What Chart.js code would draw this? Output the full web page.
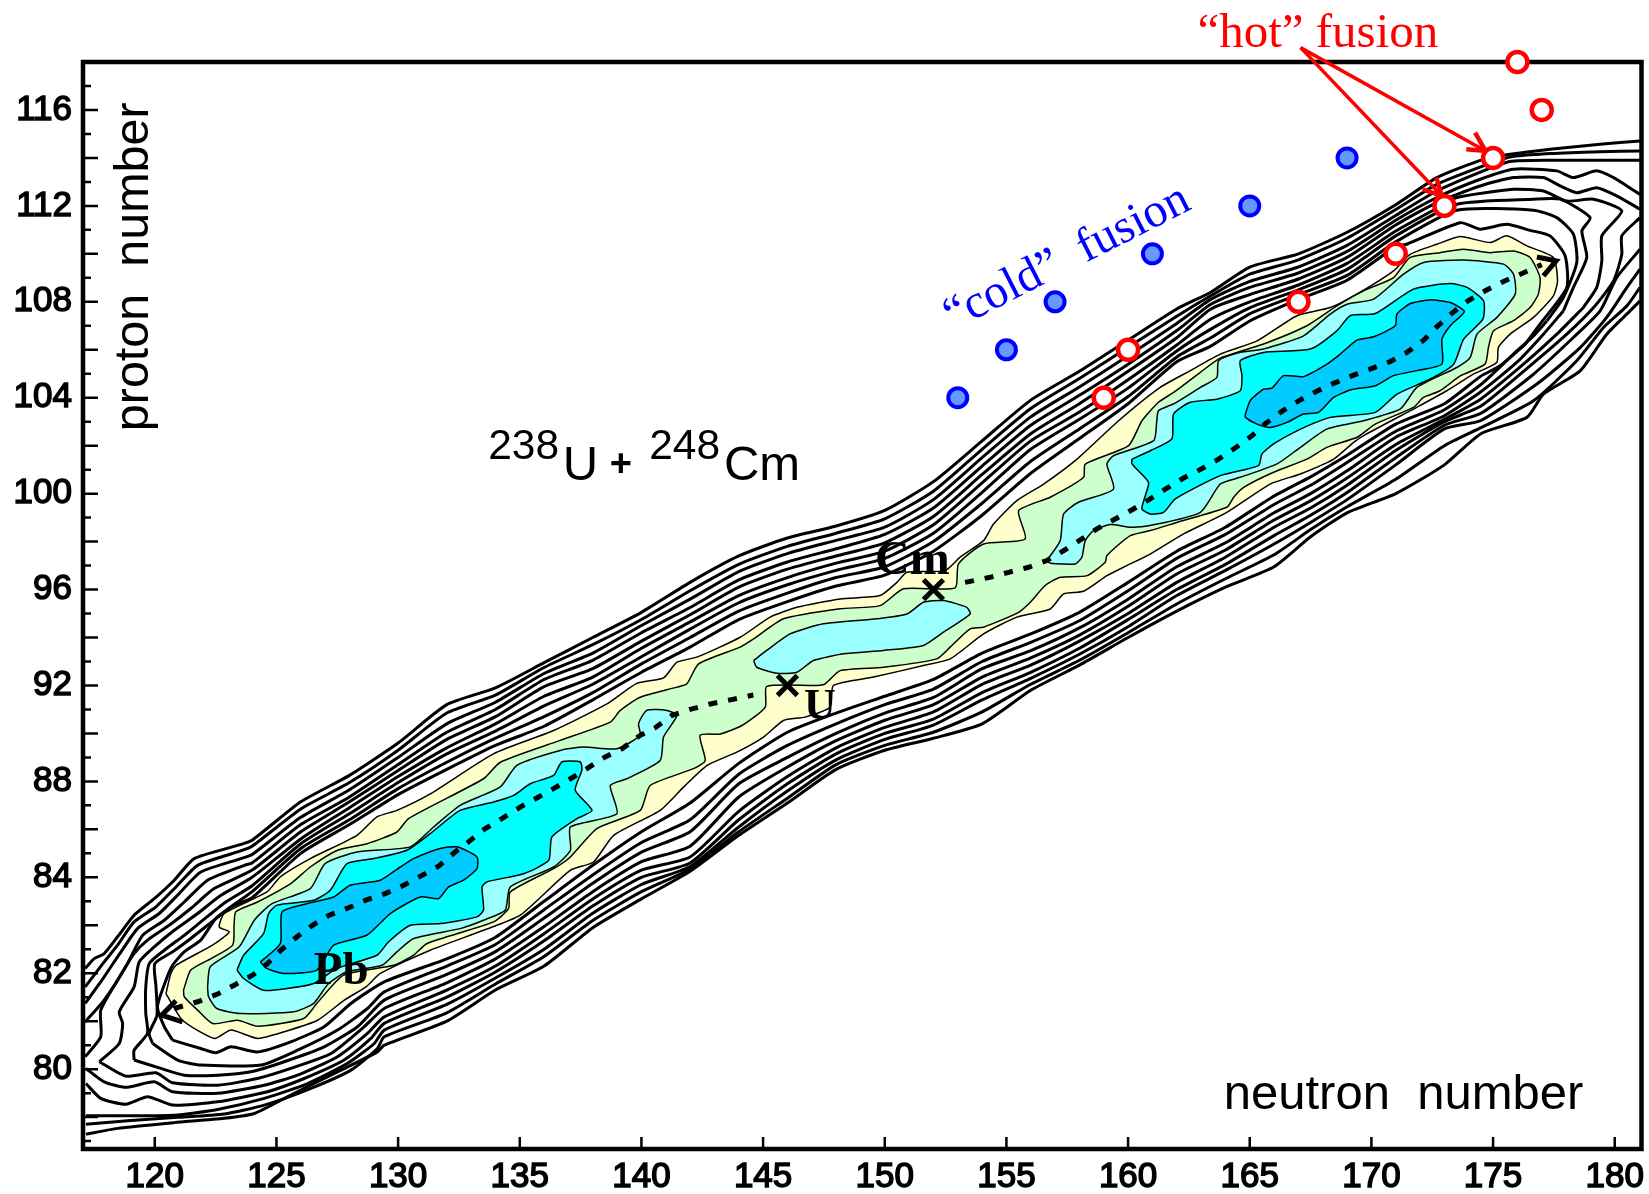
<!DOCTYPE html>
<html>
<head>
<meta charset="utf-8">
<title>238U + 248Cm</title>
<script src="https://cdn.jsdelivr.net/npm/chart.js@4/dist/chart.umd.min.js"></script>
<style>
  html, body { margin: 0; padding: 0; background: #fff; }
  canvas { display: block; }
</style>
</head>
<body>
<canvas id="chart" width="1649" height="1194"></canvas>
<script>
// axis ticks. the y axis is uneven in the original: 84, 82, 80 sit where 84, 80, 76 would be
const xTicks = [120, 125, 130, 135, 140, 145, 150, 155, 160, 165, 170, 175, 180];
const yTickPositions = [116, 112, 108, 104, 100, 96, 92, 88, 84, 80, 76];
const yTickLabels = [116, 112, 108, 104, 100, 96, 92, 88, 84, 82, 80];

// isotopes
const coldFusion = [[153, 104], [155, 106], [157, 108], [161, 110], [165, 112], [169, 114]];
const hotFusion = [[159, 104], [160, 106], [167, 108], [171, 110], [173, 112], [175, 114], [177, 116], [176, 118]];
const projectiles = [[146, 92], [152, 96]];

// filled contour levels
const yellowLevel = [[120.46,79.15],[120.66,79.99],[120.87,80.33],[122.37,81.17],[123.06,81.72],[122.65,81.93],[122.86,82.49],[124.61,83.39],[125.16,84.02],[126.39,84.78],[128.31,85.75],[129.13,86.52],[129.95,86.79],[131.32,87.48],[133.92,89.15],[136.39,90.12],[138.58,91.23],[139.81,92.09],[140.91,92.32],[141.46,92.97],[142.28,93.18],[144.06,94.01],[145.29,94.85],[146.39,95.26],[148.17,95.61],[149.81,95.75],[150.5,96.3],[150.91,96.72],[152.48,96.79],[153.1,97.35],[154.06,98.04],[154.47,98.73],[155.43,99.71],[156.53,100.4],[157.9,101.44],[159.61,103.04],[161.32,104.43],[162.56,105.13],[163.79,105.82],[165.3,106.37],[166.94,107.42],[168.31,107.76],[169.4,108.32],[170.91,109.29],[171.59,109.98],[172.69,110.4],[173.65,110.72],[174.88,110.47],[175.56,110.75],[176.39,110.33],[177.48,109.85],[177.65,108.87],[177.48,108.25],[176.66,107.35],[175.7,106.65],[175.22,106.1],[175.15,105.47],[174.19,104.98],[173.1,104.29],[171.86,103.6],[169.68,102.42],[169.27,102.14],[168.45,101.44],[167.08,100.82],[165.84,100.4],[164.06,99.22],[162.28,98.32],[160.91,97.48],[159.81,96.93],[159.13,96.58],[158.17,95.93],[157.35,95.82],[156.8,95.19],[155.43,94.85],[154.06,94.15],[152.69,93.11],[151.59,92.83],[149.54,92.35],[147.89,92.0],[147.76,91.1],[146.73,90.68],[145.84,90.54],[145.02,89.85],[143.92,89.22],[142.69,88.66],[141.73,87.76],[140.77,86.79],[138.86,85.75],[138.03,84.64],[137.07,84.29],[135.02,82.42],[133.51,81.79],[131.32,80.96],[129.27,79.99],[128.68,79.43],[127.79,78.88],[126.69,78.04],[125.32,77.56],[124.23,77.28],[123.13,77.63],[122.45,77.28],[121.14,78.04]];
const greenLevel = [[121.18,79.29],[121.48,80.13],[122.31,80.61],[123.2,81.17],[123.26,82.0],[123.33,82.56],[124.22,82.97],[125.59,83.74],[126.39,84.43],[127.51,85.13],[128.72,85.4],[129.95,85.89],[130.43,86.45],[133.51,88.11],[134.2,88.8],[136.66,89.71],[138.72,90.47],[139.13,90.96],[139.95,91.51],[141.46,91.93],[141.87,92.07],[142.35,92.9],[144.06,93.6],[144.61,93.94],[145.84,94.78],[148.17,95.2],[149.81,95.33],[150.77,96.03],[152.89,96.07],[153.03,97.07],[154.06,97.9],[155.77,98.11],[155.5,99.29],[156.8,99.85],[158.17,100.68],[158.24,101.23],[160.02,102.0],[160.57,103.04],[161.25,103.81],[161.87,104.22],[162.97,105.06],[163.79,105.65],[165.57,106.24],[167.35,107.0],[168.58,107.83],[169.68,108.46],[170.91,109.01],[171.59,109.85],[172.82,110.05],[173.78,110.19],[174.88,110.05],[175.84,110.12],[176.52,109.85],[176.93,109.01],[176.86,108.32],[176.52,107.76],[175.84,107.21],[175.02,106.79],[174.81,106.1],[174.67,105.4],[173.65,104.91],[172.82,104.29],[172.14,104.01],[171.73,103.6],[170.16,102.9],[169.41,102.35],[168.17,101.93],[167.35,101.44],[165.98,100.89],[164.75,100.26],[164.34,99.85],[164.06,99.43],[162.01,98.8],[160.91,98.46],[160.09,98.25],[159.13,97.42],[159.06,97.14],[158.31,96.58],[157.21,96.51],[156.59,96.17],[155.98,95.47],[155.5,95.05],[154.06,94.43],[153.51,94.36],[152.69,93.6],[152.14,93.11],[149.95,92.76],[148.17,92.62],[147.55,92.07],[147.21,92.0],[145.15,91.96],[145.09,91.1],[144.13,90.33],[143.24,89.98],[142.41,89.92],[142.62,88.87],[142.14,88.53],[140.36,87.83],[139.95,86.79],[138.17,86.03],[137.08,84.85],[136.39,84.36],[134.61,83.39],[134.54,82.7],[133.92,82.14],[131.19,81.24],[130.64,80.75],[129.82,80.33],[127.76,79.92],[126.66,78.74],[126.12,78.11],[124.23,77.79],[123.4,78.04],[122.38,77.9],[121.76,78.46],[121.21,79.02]];
const paleLow = [[122.17,79.43],[122.28,80.27],[123.47,81.1],[124.09,82.21],[124.82,82.9],[126.39,83.53],[127.0,84.57],[128.31,85.06],[130.5,85.27],[131.46,86.1],[132.55,87.0],[134.2,87.77],[134.88,88.67],[136.66,89.29],[137.62,89.43],[138.99,89.36],[139.95,89.92],[139.88,90.4],[140.22,90.96],[141.05,90.96],[141.46,90.75],[140.91,89.85],[140.77,88.87],[139.4,88.11],[138.72,87.83],[138.99,86.65],[137.08,86.1],[137.08,85.13],[136.39,84.43],[134.61,83.6],[134.4,82.63],[133.51,82.21],[132.55,81.86],[130.64,81.45],[129.95,80.89],[129.34,80.33],[127.9,80.06],[127.14,79.57],[126.53,78.74],[125.71,78.39],[123.51,78.32],[122.55,78.53],[122.21,79.02]];
const paleMid = [[144.61,93.04],[145.15,93.46],[146.11,94.15],[147.48,94.57],[149.67,94.78],[150.91,94.98],[151.59,95.47],[152.41,95.54],[153.37,95.26],[153.51,94.98],[152.41,94.22],[151.59,93.67],[149.95,93.46],[148.31,93.32],[147.07,93.04],[146.39,92.55],[145.57,92.51],[144.74,92.76]];
const paleHigh = [[156.66,97.21],[157.21,98.04],[157.35,99.15],[157.96,99.64],[159.4,100.19],[159.13,101.23],[159.4,101.58],[161.05,102.21],[161.18,103.04],[161.25,103.46],[161.87,103.74],[162.97,104.43],[163.65,104.85],[163.72,105.54],[164.61,105.89],[165.57,106.03],[167.21,106.58],[168.31,107.49],[169.0,107.9],[170.09,108.11],[171.32,109.15],[172.15,109.64],[173.79,109.74],[175.43,109.57],[175.84,109.15],[175.91,108.32],[175.16,107.35],[174.34,106.65],[174.06,105.68],[173.51,105.26],[171.87,104.43],[171.19,103.53],[169.68,103.04],[168.17,102.69],[167.08,101.93],[166.12,101.24],[164.61,100.68],[163.79,100.4],[162.97,99.22],[160.91,98.67],[160.09,98.6],[159.27,98.71],[158.58,98.46],[158.24,98.04],[158.1,97.35],[157.83,97.07],[156.8,97.1]];
const cyanLow = [[123.38,80.13],[123.65,80.75],[124.47,81.65],[124.68,82.49],[125.02,82.84],[126.53,83.04],[127.21,83.46],[127.9,84.57],[129.0,84.78],[130.36,85.13],[131.32,85.82],[132.55,86.79],[133.92,87.14],[134.75,87.42],[135.43,87.9],[136.39,88.25],[136.73,88.81],[137.49,88.81],[137.55,88.46],[137.28,87.63],[137.97,86.79],[137.35,86.45],[136.32,85.68],[136.19,84.71],[135.16,84.15],[133.65,83.81],[133.45,83.6],[133.51,82.63],[133.24,82.35],[131.73,82.07],[130.5,82.0],[129.61,81.31],[129.13,80.75],[127.49,80.2],[126.53,79.57],[125.43,79.36],[124.47,79.29],[123.65,79.78]];
const cyanHigh = [[160.16,101.44],[160.91,101.79],[161.8,102.28],[161.87,103.32],[162.56,103.81],[163.65,103.94],[164.61,104.29],[164.68,104.92],[164.61,105.54],[165.57,105.89],[167.49,106.03],[168.58,106.79],[169.13,107.42],[170.16,107.51],[171.73,108.53],[173.24,108.76],[173.93,108.6],[174.61,108.04],[174.58,107.28],[173.79,106.44],[173.38,105.4],[172.42,104.78],[171.05,104.15],[170.16,103.39],[168.31,103.18],[166.94,102.62],[165.98,102.07],[165.5,101.65],[165.36,101.17],[163.79,100.75],[161.94,99.78],[161.46,99.22],[160.91,99.15],[160.57,99.36],[160.71,99.92],[160.84,100.47],[160.16,101.24]];
const blueLow = [[124.34,80.47],[125.16,81.24],[125.23,82.56],[126.25,82.9],[127.35,83.18],[128.03,83.67],[129.27,83.88],[130.09,84.43],[130.64,84.78],[131.73,85.2],[132.42,85.27],[133.24,84.85],[133.24,84.36],[132.69,83.88],[132.08,83.6],[131.66,83.11],[130.91,83.18],[129.68,82.49],[128.72,81.59],[127.35,81.17],[126.66,80.13],[125.29,79.99],[124.6,80.2]];
const blueHigh = [[164.82,103.32],[165.02,103.88],[165.57,104.36],[165.91,104.4],[166.39,104.92],[167.21,104.88],[168.17,105.4],[168.72,105.82],[169.41,106.4],[170.09,106.54],[170.98,107.0],[171.05,107.49],[171.6,107.93],[172.42,108.08],[173.24,107.97],[173.82,107.6],[173.24,107.0],[172.9,106.44],[172.9,105.4],[171.87,105.13],[170.91,104.92],[170.16,104.5],[169.13,104.32],[168.45,104.01],[167.83,103.39],[167.21,103.32],[166.53,102.97],[165.84,102.76],[165.3,102.9],[164.82,103.18]];

// unfilled contours: upper side of the ridge, left end, values at upperX, right end
const upperX = [124,126,128,130,132,134,136,138,140,142,144,146,148,150,152,154,156,158,160,162,163.4,165,167,169,171];
const upperValues = [
  [85.55,87.15,88.25,89.6,91.2,91.9,92.95,94.0,95.05,96.3,97.4,98.15,98.65,99.3,100.5,102.2,103.9,105.1,106.4,107.7,108.4,109.45,110.0,110.9,112.05],
  [85.3,86.85,87.95,89.3,90.85,91.6,92.75,93.7,94.75,95.95,97.05,97.8,98.35,98.95,100.1,101.85,103.55,104.8,106.1,107.4,108.25,109.15,109.75,110.65,111.85],
  [84.95,86.5,87.65,89.0,90.4,91.3,92.5,93.35,94.5,95.6,96.75,97.5,98.05,98.6,99.75,101.5,103.2,104.45,105.75,107.1,108.1,108.85,109.45,110.35,111.6],
  [84.6,86.2,87.35,88.7,90.05,91.0,92.25,93.05,94.2,95.25,96.4,97.15,97.7,98.3,99.4,101.15,102.85,104.1,105.4,106.8,107.9,108.6,109.2,110.1,111.4],
  [84.3,85.9,87.15,88.45,89.75,90.7,91.95,92.7,93.85,94.95,96.1,96.85,97.4,97.95,99.05,100.8,102.5,103.75,105.1,106.5,107.7,108.3,108.95,109.85,111.2],
  [84.0,85.6,86.9,88.2,89.4,90.4,91.55,92.35,93.55,94.65,95.75,96.5,97.1,97.6,98.7,100.45,102.2,103.4,104.75,106.2,107.28,108.0,108.7,109.6,110.95],
  [83.65,85.4,86.65,87.95,89.15,90.1,91.15,92.05,93.2,94.35,95.45,96.2,96.8,97.3,98.35,100.05,101.85,103.1,104.4,105.95,106.86,107.75,108.5,109.35,110.75],
  [83.4,85.2,86.4,87.7,88.8,89.8,90.7,91.7,92.9,94.0,95.1,95.85,96.5,96.95,98.0,99.6,101.35,102.7,104.05,105.7,106.5,107.5,108.3,109.1,110.5],
  [83.15,85.0,86.2,87.45,88.5,89.5,90.3,91.4,92.55,93.6,94.75,95.5,96.15,96.6,97.6,99.1,100.85,102.3,103.75,105.5,106.15,107.2,108.1,108.9,110.3]
];
const upperLeft = [
  [[117.14,80.2],[117.51,80.61],[117.92,80.82],[118.47,81.52],[119.15,82.42],[119.98,83.11],[120.8,83.88],[121.62,84.78],[123.4,85.33]],
  [[117.14,79.43],[117.92,80.47],[118.47,81.17],[119.15,82.14],[120.05,82.77],[120.94,83.67],[121.76,84.5],[123.4,85.06]],
  [[117.14,78.74],[117.92,79.85],[118.61,80.89],[119.29,81.86],[120.18,82.49],[121.0,83.32],[121.89,84.22],[123.54,84.78]],
  [[117.14,77.97],[117.92,78.88],[118.81,80.27],[119.5,81.58],[120.39,82.21],[121.21,82.97],[122.17,83.88],[123.68,84.5]],
  [[117.14,76.52],[117.78,77.35],[117.78,78.46],[118.47,79.71],[119.15,80.82],[119.7,81.38],[120.59,82.0],[121.48,82.7],[122.44,83.53]],
  [[117.72,76.31],[118.54,77.07],[118.68,77.9],[118.54,78.39],[119.15,79.43],[119.36,80.47],[119.98,81.1],[120.8,81.79],[121.76,82.49],[122.72,83.25]],
  [[119.15,76.38],[119.15,76.79],[119.7,77.49],[119.63,78.32],[119.63,79.43],[119.77,80.4],[120.39,80.96],[121.21,81.58],[121.89,82.14],[122.92,82.97]],
  [[119.91,77.07],[119.77,77.49],[120.09,78.25],[120.05,79.43],[120.0,80.4],[120.73,80.89],[121.48,81.45],[122.17,82.0],[123.13,82.77]],
  [[120.73,77.21],[120.39,77.77],[120.11,78.6],[120.46,79.71],[120.73,80.33],[121.21,80.89],[121.89,81.38],[122.51,82.28],[123.26,82.83]]
];
const upperRight = [
  [[172.69,113.18],[174.6,113.94],[175.7,114.15],[177.34,114.36],[179.4,114.57],[181.04,114.71]],
  [[172.69,112.9],[174.6,113.67],[175.7,114.04],[177.34,114.18],[179.4,114.26],[181.04,114.29]],
  [[172.69,112.62],[174.6,113.46],[175.7,113.85],[177.34,113.9],[179.4,113.9],[181.04,113.9]],
  [[172.69,112.35],[174.47,113.11],[175.84,113.53],[177.62,113.46],[178.3,113.18],[179.26,113.46],[179.95,113.18],[180.5,112.83],[181.04,112.48]],
  [[172.69,112.14],[174.47,112.83],[175.84,113.18],[177.07,113.18],[177.76,112.83],[178.44,112.55],[179.26,112.76],[180.08,112.42],[181.04,111.86]],
  [[172.69,111.9],[173.51,112.35],[175.84,112.69],[177.07,112.62],[178.03,112.2],[179.13,112.28],[180.29,111.79],[179.47,110.75],[179.47,109.71],[179.26,108.6],[178.71,107.76]],
  [[173.51,112.07],[176.66,112.28],[177.76,112.28],[178.99,111.51],[178.65,110.96],[178.85,109.85],[178.3,108.6],[177.89,107.62]],
  [[173.51,111.82],[176.66,111.82],[177.62,111.51],[178.3,110.82],[178.44,109.64],[177.89,108.18],[177.21,107.2]],
  [[171.45,110.4],[173.65,111.3],[174.47,111.03],[175.56,111.23],[176.52,110.98],[177.34,110.75],[177.96,109.92],[178.03,108.6],[176.93,107.07],[176.32,106.23]]
];

// lower side of the ridge, outermost contour first
const lowerX = [129.43,132,134,136,138,140,142,144,146,148,150,152,154,156,158,160,162,164,166,167.5,169,171,173,174.5];
const lowerValues = [
  [77.0,78.0,79.3,80.3,81.9,83.1,84.25,85.75,87.1,88.5,89.3,89.8,90.4,91.8,92.85,94.0,95.1,96.1,96.95,98.2,99.2,100.0,101.2,102.5],
  [77.35,78.35,79.55,80.7,82.2,83.4,84.35,85.9,87.3,88.7,89.5,90.05,90.9,92.05,93.05,94.2,95.4,96.45,97.45,98.5,99.45,100.6,102.0,102.75],
  [77.63,78.7,79.8,81.0,82.5,83.7,84.45,86.1,87.6,88.9,89.75,90.35,91.4,92.3,93.3,94.45,95.75,96.8,97.9,98.8,99.75,101.2,102.7,103.05],
  [77.91,79.0,80.05,81.35,82.8,84.0,84.6,86.4,87.9,89.15,90.0,90.6,91.7,92.55,93.55,94.75,96.0,97.05,98.25,99.1,100.05,101.5,102.85,103.35],
  [78.18,79.3,80.3,81.65,83.1,84.3,84.85,86.75,88.2,89.4,90.25,90.9,92.05,92.85,93.85,95.0,96.3,97.35,98.6,99.4,100.35,101.8,103.0,103.65],
  [78.53,79.6,80.6,81.95,83.4,84.65,85.3,87.35,88.6,89.7,90.55,91.2,92.35,93.15,94.1,95.3,96.65,97.65,98.9,99.7,100.65,102.05,103.1,103.95],
  [78.88,79.95,80.9,82.3,83.75,85.05,85.9,87.9,89.0,90.0,90.85,91.5,92.7,93.45,94.4,95.6,96.95,97.95,99.2,100.0,100.95,102.35,103.25,104.25],
  [79.22,80.3,81.2,82.65,84.1,85.45,86.4,88.3,89.5,90.4,91.2,91.85,93.0,93.8,94.7,95.95,97.3,98.3,99.55,100.35,101.3,102.6,103.5,104.55],
  [79.64,80.6,81.5,83.0,84.5,85.9,87.1,88.75,90.05,90.85,91.55,92.25,93.35,94.15,95.05,96.3,97.6,98.6,99.9,100.7,101.6,102.9,103.75,104.9]
];
const lowerLeft = [
  [[117.17,73.29],[118.47,73.53],[120.8,73.77],[122.85,73.95],[124.09,74.15],[125.59,74.92],[127.51,75.89],[129.15,76.72]],
  [[117.17,73.7],[118.88,73.85],[120.94,73.99],[122.85,74.13],[124.5,74.5],[126.42,75.2],[128.06,75.96],[129.15,76.86]],
  [[117.17,74.06],[120.8,74.08],[122.58,74.32],[124.5,74.78],[126.28,75.4],[127.92,76.24],[129.02,77.07]],
  [[117.17,75.4],[117.78,74.78],[118.81,74.54],[119.7,74.85],[120.73,74.5],[122.58,74.64],[124.63,75.06],[126.14,75.61],[127.78,76.38],[128.88,77.28]],
  [[117.17,76.03],[117.92,75.47],[118.81,75.24],[119.98,75.47],[120.73,75.06],[122.58,74.99],[124.5,75.33],[125.87,75.75],[127.51,76.52],[128.74,77.49]],
  [[117.72,76.31],[118.81,75.71],[120.05,75.85],[120.73,75.43],[122.58,75.33],[124.22,75.61],[125.59,76.03],[127.24,76.65],[128.61,77.77]],
  [[119.15,76.38],[120.25,76.03],[121.21,75.75],[122.58,75.75],[123.95,75.89],[125.32,76.31],[126.96,76.93],[128.33,77.77]],
  [[119.91,77.07],[120.94,76.38],[121.89,76.17],[124.36,76.17],[125.87,76.79],[127.51,77.63],[128.74,78.53]],
  [[120.73,77.21],[121.89,76.86],[122.51,76.68],[123.13,76.93],[124.22,76.72],[125.59,77.14],[126.96,77.77],[128.06,78.74]]
];
const lowerRight = [
  [[176.39,103.18],[177.07,104.15],[178.58,105.12],[179.67,106.65],[180.63,107.62],[181.04,108.04]],
  [[176.66,103.87],[178.44,105.54],[179.54,106.93],[180.5,107.83],[181.04,108.6]],
  [[176.8,104.57],[178.58,106.09],[179.67,107.35],[180.5,108.6],[181.04,109.36]],
  [[176.66,104.98],[178.3,106.51],[179.4,107.62],[180.08,109.01],[181.04,110.19]],
  [[176.52,105.33],[178.03,106.65],[179.13,107.76],[179.95,108.87],[180.29,109.98],[180.29,110.75],[181.04,111.51]],
  [[176.25,105.4],[177.62,106.65],[178.71,107.76]],
  [[175.97,105.47],[177.07,106.65],[177.89,107.62]],
  [[175.84,105.82],[176.66,106.58],[177.21,107.2]],
  [[175.29,105.33],[176.32,106.23]]
];

// dashed valley and arrows
const pathLow = [[120.8,78.53],[121.76,78.81],[122.58,79.13],[123.26,79.5],[124.02,79.92],[124.63,80.4],[125.18,80.96],[125.87,81.54],[126.48,82.0],[127.17,82.42],[127.99,82.74],[128.65,83.04],[129.47,83.32],[130.23,83.67],[130.98,84.08],[131.66,84.46],[132.35,85.06],[132.97,85.54],[133.58,86.03],[134.27,86.45],[135.02,86.93],[135.7,87.31],[136.39,87.7],[137.08,88.11],[137.76,88.53],[138.51,89.02],[139.2,89.36],[139.95,89.92],[140.57,90.24],[141.25,90.75],[142.0,91.0],[142.83,91.23],[143.65,91.4],[144.6,91.6]];
const pathHigh = [[153.3,96.3],[154.33,96.51],[155.09,96.72],[155.91,96.93],[156.66,97.21],[157.41,97.66],[158.1,98.11],[158.72,98.53],[159.47,98.94],[160.22,99.36],[160.91,99.78],[161.53,100.19],[162.28,100.65],[162.96,101.0],[163.72,101.44],[164.4,101.9],[165.09,102.41],[165.64,102.92],[166.32,103.43],[167.01,103.87],[167.73,104.26],[168.45,104.6],[169.24,104.93],[170.02,105.22],[170.78,105.51],[171.46,105.89],[172.15,106.4],[172.69,106.96],[173.35,107.56],[173.97,108.04],[174.68,108.46],[175.43,108.85],[176.19,109.18],[177.0,109.55]];
const arrowLeft = [[120.87,78.85],[120.28,78.25],[121.14,77.97]];
const arrowRight = [[176.8,109.87],[177.59,109.71],[177.07,109.08]];
const hotArrowA = [[167.09,118.6],[174.69,114.29]];
const hotArrowB = [[167.09,118.6],[172.89,112.42]];
const hotHeadA = [[173.9,114.36],[174.69,114.29],[174.26,115.05]];
const hotHeadB = [[172.1,112.69],[172.89,112.42],[172.67,113.18]];

const textLabels = [
  { text: 'proton  number', x: 119.73, y: 109.46, font: '48.5px "Liberation Sans"', color: '#000', angle: -90, align: 'center' },
  { text: 'neutron  number', x: 163.93, y: 74.35, font: '49px "Liberation Sans"', color: '#000', angle: 0, align: 'left' },
  { text: '238', x: 133.7, y: 101.45, font: '42.5px "Liberation Sans"', color: '#000', angle: 0, align: 'left' },
  { text: 'U', x: 136.77, y: 100.57, font: '49px "Liberation Sans"', color: '#000', angle: 0, align: 'left' },
  { text: '+', x: 138.7, y: 100.73, font: 'bold 38px "Liberation Sans"', color: '#000', angle: 0, align: 'left' },
  { text: '248', x: 140.32, y: 101.45, font: '42.5px "Liberation Sans"', color: '#000', angle: 0, align: 'left' },
  { text: 'Cm', x: 143.39, y: 100.57, font: '49px "Liberation Sans"', color: '#000', angle: 0, align: 'left' },
  { text: 'Pb', x: 126.53, y: 79.56, font: 'bold 47px "Liberation Serif"', color: '#000', angle: 0, align: 'left' },
  { text: 'Cm', x: 149.6, y: 96.66, font: 'bold 48px "Liberation Serif"', color: '#000', angle: 0, align: 'left' },
  { text: 'U', x: 146.68, y: 90.6, font: 'bold 44px "Liberation Serif"', color: '#000', angle: 0, align: 'left' },
  { text: '“cold”  fusion', x: 152.8, y: 106.8, font: '48px "Liberation Serif"', color: '#0000ff', angle: -27, align: 'left' },
  { text: '“hot” fusion', x: 162.85, y: 118.62, font: '49px "Liberation Serif"', color: '#ff0000', angle: 0, align: 'left' }
];

const toPoints = (pairs) => pairs.map(([x, y]) => ({ x, y }));
const closed = (pairs) => pairs.concat([pairs[0]]);
const stationPairs = (xs, ys) => xs.map((x, i) => [x, ys[i]]);

const datasets = [];
const addFilled = (pairs, color) => datasets.push({
  data: toPoints(closed(pairs)), showLine: true, pointRadius: 0, tension: 0.2,
  fill: 'shape', backgroundColor: color, borderColor: '#000', borderWidth: 1.5
});
const addLine = (pairs, width, color, extra) => datasets.push(Object.assign({
  data: toPoints(pairs), showLine: true, pointRadius: 0, tension: 0.2,
  fill: false, borderColor: color, borderWidth: width
}, extra));

upperValues.forEach((values, i) => {
  addLine(upperLeft[i].concat(stationPairs(upperX, values), upperRight[i]), 3, '#000');
});
lowerValues.forEach((values, i) => {
  addLine(lowerLeft[i].concat(stationPairs(lowerX, values), lowerRight[i]), 3, '#000');
});

addFilled(yellowLevel, '#ffffcc');
addFilled(greenLevel, '#ccffcc');
addFilled(paleLow, '#99ffff');
addFilled(paleMid, '#99ffff');
addFilled(paleHigh, '#99ffff');
addFilled(cyanLow, '#00ffff');
addFilled(cyanHigh, '#00ffff');
addFilled(blueLow, '#00ccff');
addFilled(blueHigh, '#00ccff');

addLine(pathLow, 5, '#000', { borderDash: [9, 11], tension: 0 });
addLine(pathHigh, 5, '#000', { borderDash: [9, 11], tension: 0 });
addLine(arrowLeft, 5, '#000', { tension: 0 });
addLine(arrowRight, 5, '#000', { tension: 0 });

addLine(hotArrowA, 3.5, '#ff0000', { tension: 0, clip: false });
addLine(hotArrowB, 3.5, '#ff0000', { tension: 0, clip: false });
addLine(hotHeadA, 4.5, '#ff0000', { tension: 0, clip: false });
addLine(hotHeadB, 4.5, '#ff0000', { tension: 0, clip: false });

datasets.push({
  data: toPoints(projectiles), pointStyle: 'crossRot', pointRadius: 14, pointBorderWidth: 5,
  pointBorderColor: '#000', showLine: false
});
datasets.push({
  data: toPoints(coldFusion), pointStyle: 'circle', pointRadius: 9.5, pointBorderWidth: 4,
  pointBorderColor: '#0000ff', pointBackgroundColor: '#6699ff', showLine: false
});
datasets.push({
  data: toPoints(hotFusion), pointStyle: 'circle', pointRadius: 10, pointBorderWidth: 4.5,
  pointBorderColor: '#ff0000', pointBackgroundColor: '#ffffff', showLine: false, clip: false
});

// later entries paint on top, chart.js draws high order first
datasets.forEach((d, i) => { d.order = datasets.length - i; });

// the layout keeps a wider right margin than asked for, so set the plot edge here
const plotEdgePlugin = {
  id: 'plotEdge',
  afterLayout(chart) {
    const right = chart.width - 7.5;
    const x = chart.scales.x;
    chart.chartArea.right = right;
    chart.chartArea.width = right - chart.chartArea.left;
    x.right = right;
    x.width = right - x.left;
    x.configure();
  }
};

// frame and the inward tick marks, under the data so the circles sit on the frame
const framePlugin = {
  id: 'frame',
  beforeDatasetsDraw(chart) {
    const { ctx, chartArea, scales } = chart;
    ctx.save();
    ctx.strokeStyle = '#000';
    ctx.lineWidth = 4.5;
    ctx.strokeRect(chartArea.left, chartArea.top, chartArea.right - chartArea.left, chartArea.bottom - chartArea.top);
    ctx.lineWidth = 2.5;
    ctx.beginPath();
    for (let v = 73; v <= 117; v++) {
      const py = scales.y.getPixelForValue(v);
      ctx.moveTo(chartArea.left, py);
      ctx.lineTo(chartArea.left + (v % 2 === 0 ? 15 : 8), py);
    }
    xTicks.forEach((v) => {
      const px = scales.x.getPixelForValue(v);
      ctx.moveTo(px, chartArea.bottom);
      ctx.lineTo(px, chartArea.bottom - 12);
    });
    ctx.stroke();
    ctx.restore();
  }
};

const textPlugin = {
  id: 'plotText',
  afterDatasetsDraw(chart) {
    const { ctx, scales } = chart;
    textLabels.forEach((t) => {
      ctx.save();
      ctx.translate(scales.x.getPixelForValue(t.x), scales.y.getPixelForValue(t.y));
      ctx.rotate(t.angle * Math.PI / 180);
      ctx.font = t.font;
      ctx.fillStyle = t.color;
      ctx.textAlign = t.align;
      ctx.textBaseline = 'alphabetic';
      ctx.fillText(t.text, 0, 0);
      ctx.restore();
    });
  }
};

new Chart(document.getElementById('chart').getContext('2d'), {
  type: 'scatter',
  data: { datasets },
  plugins: [plotEdgePlugin, framePlugin, textPlugin],
  options: {
    responsive: false,
    animation: false,
    layout: { padding: { top: 62, right: 7.5, left: 0, bottom: 0 } },
    plugins: { legend: { display: false }, tooltip: { enabled: false } },
    scales: {
      x: {
        type: 'linear',
        min: 117.05,
        max: 181.1,
        grid: { display: false, drawTicks: false },
        border: { display: false },
        afterFit(scale) { scale.height = 45; },
        afterBuildTicks(scale) { scale.ticks = xTicks.map((value) => ({ value })); },
        ticks: {
          color: '#000', padding: 7, maxRotation: 0, autoSkip: false,
          textStrokeColor: '#000', textStrokeWidth: 1.5,
          font: { family: '"Liberation Sans"', size: 35 }
        }
      },
      y: {
        type: 'linear',
        min: 72.67,
        max: 118,
        grid: { display: false, drawTicks: false },
        border: { display: false },
        afterFit(scale) { scale.width = 83; },
        afterBuildTicks(scale) { scale.ticks = yTickPositions.map((value) => ({ value })); },
        ticks: {
          color: '#000', padding: 11, autoSkip: false,
          textStrokeColor: '#000', textStrokeWidth: 1.5,
          font: { family: '"Liberation Sans"', size: 35 },
          callback: (value) => yTickLabels[yTickPositions.indexOf(value)]
        }
      }
    }
  }
});
</script>
</body>
</html>
